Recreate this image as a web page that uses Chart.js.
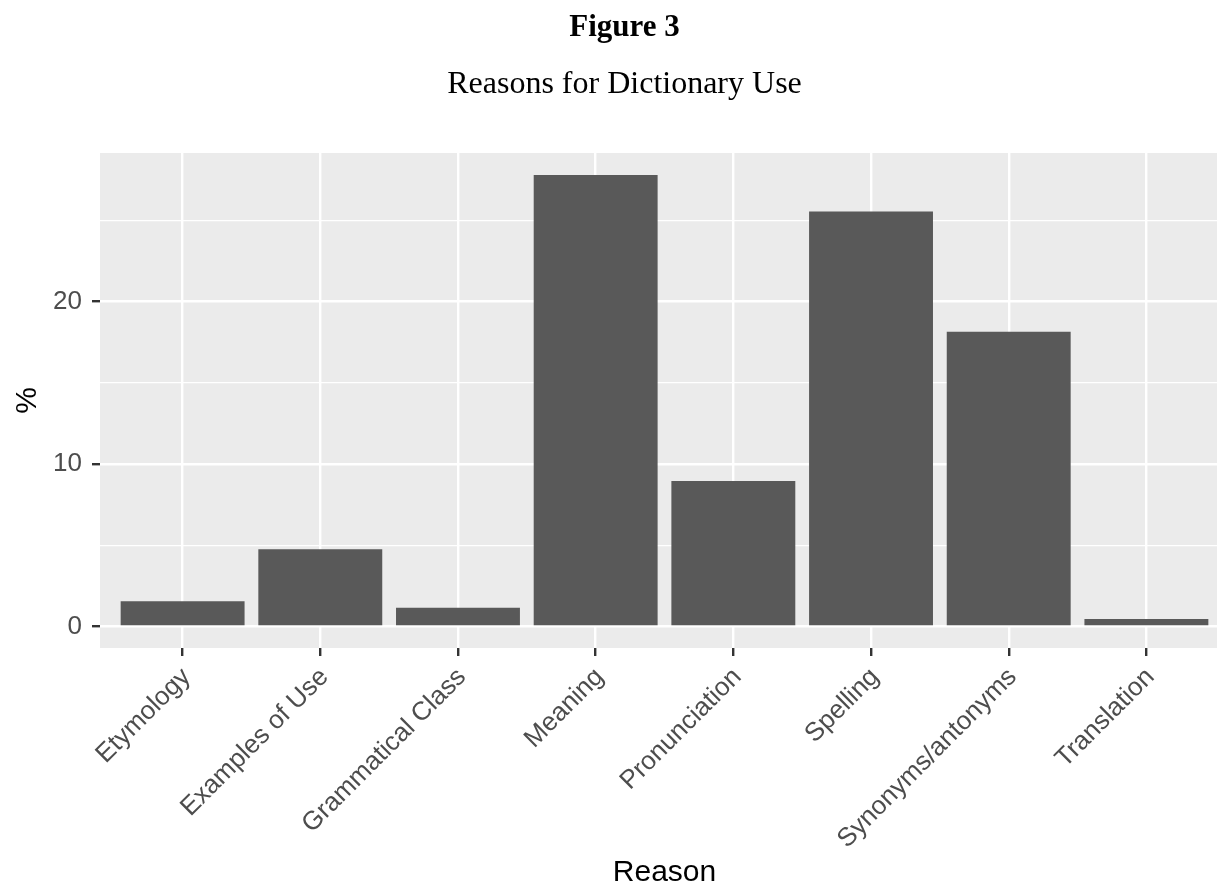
<!DOCTYPE html>
<html>
<head>
<meta charset="utf-8">
<script src="https://cdn.jsdelivr.net/npm/chart.js@4.4.0/dist/chart.umd.min.js"></script>
<style>
  html, body { margin: 0; padding: 0; background: #fff; overflow: hidden; width: 1217px; height: 891px; }
  #wrap { position: relative; width: 1217px; height: 891px; overflow: hidden; }
  #fig { position: absolute; top: 8px; left: 16px; width: 1217px; text-align: center; line-height: normal;
         font-family: "Liberation Serif", "Times New Roman", serif; font-weight: bold; font-size: 31px; color: #000; }
  #sub { position: absolute; top: 64px; left: 16px; width: 1217px; text-align: center; line-height: normal;
         font-family: "Liberation Serif", "Times New Roman", serif; font-size: 32px; color: #000; }
  #c { position: absolute; top: 0; left: 0; }
</style>
</head>
<body>
<div id="wrap">
  <canvas id="c" width="1240" height="891"></canvas>
  <div id="fig">Figure 3</div>
  <div id="sub">Reasons for Dictionary Use</div>
</div>
<script>
// data
const reasons = ['Etymology', 'Examples of Use', 'Grammatical Class', 'Meaning',
                 'Pronunciation', 'Spelling', 'Synonyms/antonyms', 'Translation'];
const percent = [1.55, 4.75, 1.15, 27.8, 8.95, 25.55, 18.15, 0.45];
const yTicks = [0, 5, 10, 15, 20, 25];
const yLabels = [0, 10, 20];

const panelBg = {
  id: 'panelBg',
  beforeDraw(chart) {
    const a = chart.chartArea;
    const ctx = chart.ctx;
    ctx.save();
    ctx.fillStyle = '#EBEBEB';
    ctx.fillRect(a.left, a.top, a.right - a.left, a.bottom - a.top);
    ctx.restore();
  }
};

const tickFont = { family: '"Liberation Sans", Arial, sans-serif', size: 26 };

new Chart(document.getElementById('c'), {
  type: 'bar',
  data: {
    datasets: [{
      data: percent.map((v, i) => ({ x: i, y: v })),
      backgroundColor: '#595959',
      borderWidth: 0,
      barPercentage: 0.9,
      categoryPercentage: 1.0
    }]
  },
  options: {
    responsive: false,
    animation: false,
    layout: { padding: { top: 153, right: 11, bottom: 0, left: 0 } },
    plugins: { legend: { display: false }, tooltip: { enabled: false } },
    scales: {
      x: {
        type: 'linear',
        min: -0.6,
        max: 7.6,
        offset: false,
        afterBuildTicks(scale) { scale.ticks = reasons.map((r, i) => ({ value: i })); },
        afterFit(scale) { scale.height = 243; },
        border: { display: false },
        grid: {
          offset: false,
          color: '#FFFFFF',
          lineWidth: 2.4,
          drawTicks: true,
          tickLength: 8,
          tickColor: '#333333',
          tickWidth: 2.4
        },
        ticks: {
          autoSkip: false,
          maxRotation: 45,
          minRotation: 45,
          padding: 6,
          labelOffset: 4,
          color: '#4D4D4D',
          font: tickFont,
          callback: (v) => reasons[v]
        },
        title: {
          display: true,
          text: 'Reason',
          color: '#000000',
          font: { family: '"Liberation Sans", Arial, sans-serif', size: 30 },
          padding: { top: 0, bottom: 0 }
        }
      },
      y: {
        min: -1.33,
        max: 29.15,
        afterBuildTicks(scale) { scale.ticks = yTicks.map(v => ({ value: v })); },
        afterFit(scale) { scale.width = 100; },
        border: { display: false },
        grid: {
          color: '#FFFFFF',
          lineWidth: (c) => yLabels.includes(c.tick.value) ? 2.4 : 1.2,
          drawTicks: true,
          tickLength: 8,
          tickColor: (c) => yLabels.includes(c.tick.value) ? '#333333' : 'rgba(0,0,0,0)',
          tickWidth: 2.4
        },
        ticks: {
          padding: 10,
          color: '#4D4D4D',
          font: tickFont,
          callback: (v) => yLabels.includes(v) ? String(v) : ''
        },
        title: {
          display: true,
          text: '%',
          color: '#000000',
          font: { family: '"Liberation Sans", Arial, sans-serif', size: 30 },
          padding: { top: 10, bottom: 0 }
        }
      }
    }
  },
  plugins: [panelBg]
});
</script>
</body>
</html>
